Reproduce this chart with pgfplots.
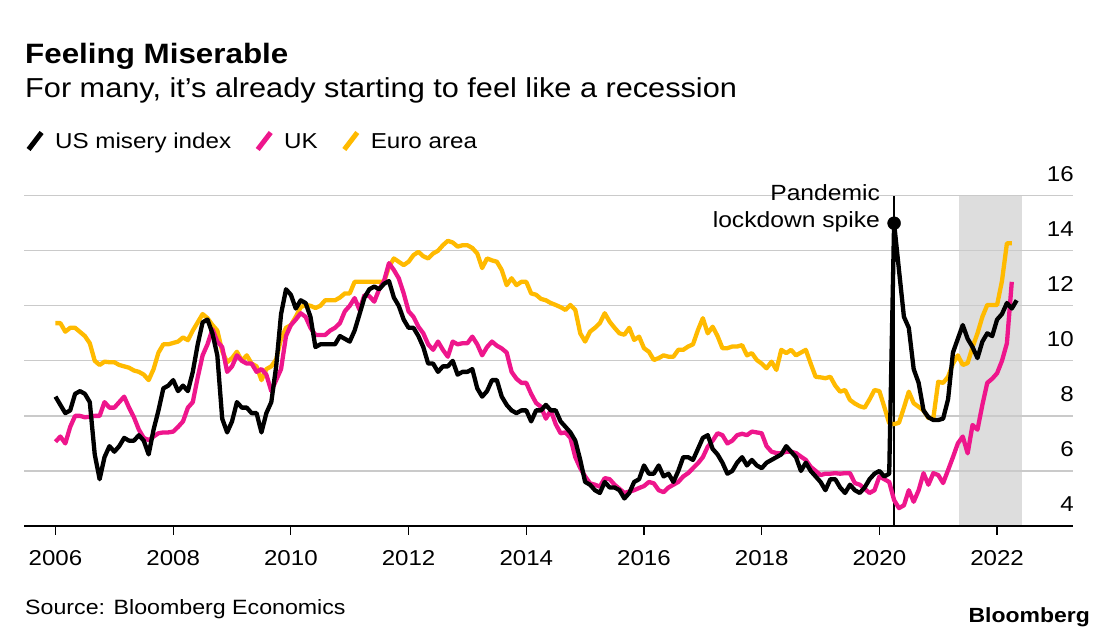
\documentclass[border=0pt]{standalone}
\usepackage{pgfplots}
\pgfplotsset{compat=1.18}
\usepackage{pgfplotstable}
\usepackage{fontspec}
\setmainfont{Liberation Sans}[FakeStretch=1.12]
\definecolor{ukpink}{RGB}{238,22,140}
\definecolor{euyellow}{RGB}{255,186,0}
\definecolor{gridgray}{RGB}{202,202,202}
\definecolor{shadegray}{RGB}{221,221,221}

\pgfplotstableread{
x us uk ea
2006.000 8.7 7.06 11.37
2006.083 8.4 7.25 11.37
2006.167 8.1 7.0 11.06
2006.250 8.2 7.6 11.2
2006.333 8.8 8.0 11.2
2006.417 8.9 8.0 11.05
2006.500 8.8 7.95 10.9
2006.583 8.5 7.97 10.64
2006.667 6.6 8.0 10.0
2006.750 5.7 8.0 9.85
2006.833 6.5 8.5 9.97
2006.917 6.9 8.3 9.95
2007.000 6.7 8.3 9.95
2007.083 6.9 8.5 9.85
2007.167 7.2 8.7 9.8
2007.250 7.1 8.3 9.75
2007.333 7.1 7.95 9.65
2007.417 7.3 7.5 9.6
2007.500 7.1 7.2 9.5
2007.583 6.6 7.12 9.3
2007.667 7.5 7.25 9.7
2007.750 8.2 7.37 10.3
2007.833 9.0 7.4 10.6
2007.917 9.1 7.4 10.6
2008.000 9.3 7.43 10.65
2008.083 8.9 7.6 10.7
2008.167 9.1 7.8 10.85
2008.250 8.9 8.3 10.75
2008.333 9.6 8.5 11.1
2008.417 10.6 9.4 11.4
2008.500 11.4 10.2 11.7
2008.583 11.5 10.6 11.55
2008.667 11.0 11.15 11.3
2008.750 10.2 10.7 11.1
2008.833 7.9 10.5 10.35
2008.917 7.4 9.6 9.95
2009.000 7.8 9.8 10.1
2009.083 8.5 10.2 10.33
2009.167 8.3 10.0 10.0
2009.250 8.3 9.9 10.2
2009.333 8.1 9.9 9.9
2009.417 8.1 9.6 9.8
2009.500 7.4 9.7 9.3
2009.583 8.1 9.5 9.7
2009.667 8.5 8.9 9.8
2009.750 9.8 9.3 10.05
2009.833 11.7 9.7 10.8
2009.917 12.6 10.9 11.2
2010.000 12.4 11.3 11.3
2010.083 11.9 11.5 11.6
2010.167 12.2 11.73 11.95
2010.250 12.1 11.6 12.03
2010.333 11.6 11.2 12.0
2010.417 10.5 10.94 11.92
2010.500 10.6 10.94 12.0
2010.583 10.6 10.94 12.2
2010.667 10.6 11.1 12.2
2010.750 10.6 11.2 12.2
2010.833 10.9 11.37 12.3
2010.917 10.8 11.8 12.45
2011.000 10.7 12.0 12.45
2011.083 11.1 12.28 12.87
2011.167 11.7 11.85 12.87
2011.250 12.3 12.39 12.87
2011.333 12.6 12.35 12.87
2011.417 12.7 12.15 12.87
2011.500 12.6 12.6 12.87
2011.583 12.8 12.9 12.87
2011.667 12.9 13.55 13.42
2011.750 12.3 13.3 13.72
2011.833 12.0 13.0 13.6
2011.917 11.5 12.45 13.48
2012.000 11.2 11.8 13.6
2012.083 11.2 11.6 13.84
2012.167 10.9 11.24 13.96
2012.250 10.5 11.0 13.8
2012.333 9.9 10.6 13.72
2012.417 9.9 10.4 13.9
2012.500 9.6 10.7 14.0
2012.583 9.8 10.4 14.2
2012.667 9.8 10.15 14.36
2012.750 10.0 10.7 14.3
2012.833 9.5 10.6 14.15
2012.917 9.6 10.64 14.2
2013.000 9.6 10.64 14.2
2013.083 9.7 10.88 14.1
2013.167 9.0 10.6 13.9
2013.250 8.7 10.2 13.37
2013.333 8.9 10.5 13.72
2013.417 9.3 10.7 13.65
2013.500 9.3 10.55 13.6
2013.583 8.7 10.45 13.3
2013.667 8.4 10.3 12.75
2013.750 8.2 9.6 13.0
2013.833 8.1 9.35 12.75
2013.917 8.2 9.2 12.87
2014.000 8.2 9.2 12.87
2014.083 7.8 8.8 12.45
2014.167 8.2 8.47 12.4
2014.250 8.2 8.33 12.25
2014.333 8.4 7.9 12.2
2014.417 8.2 8.2 12.1
2014.500 8.2 7.7 12.03
2014.583 7.8 7.37 11.95
2014.667 7.6 7.4 11.85
2014.750 7.4 7.2 12.03
2014.833 7.1 6.5 11.85
2014.917 6.4 6.1 11.0
2015.000 5.6 5.8 10.7
2015.083 5.5 5.55 11.06
2015.167 5.3 5.5 11.2
2015.250 5.2 5.43 11.37
2015.333 5.6 5.74 11.73
2015.417 5.4 5.7 11.42
2015.500 5.4 5.5 11.2
2015.583 5.3 5.35 11.0
2015.667 5.0 5.2 10.95
2015.750 5.2 5.25 11.2
2015.833 5.6 5.3 10.76
2015.917 5.7 5.38 10.88
2016.000 6.2 5.45 10.46
2016.083 5.9 5.6 10.33
2016.167 5.9 5.55 10.03
2016.250 6.2 5.3 10.1
2016.333 5.8 5.23 10.2
2016.417 5.9 5.4 10.15
2016.500 5.6 5.5 10.15
2016.583 6.0 5.6 10.4
2016.667 6.5 5.8 10.4
2016.750 6.5 5.92 10.52
2016.833 6.4 6.1 10.6
2016.917 6.8 6.28 11.12
2017.000 7.2 6.5 11.55
2017.083 7.3 6.88 11.0
2017.167 6.8 7.1 11.24
2017.250 6.6 7.37 10.9
2017.333 6.3 7.3 10.46
2017.417 5.9 7.0 10.46
2017.500 6.0 7.1 10.52
2017.583 6.3 7.3 10.52
2017.667 6.5 7.35 10.57
2017.750 6.2 7.3 10.2
2017.833 6.4 7.43 10.28
2017.917 6.2 7.4 10.03
2018.000 6.1 7.37 9.9
2018.083 6.3 6.9 9.73
2018.167 6.4 6.7 9.97
2018.250 6.5 6.65 9.67
2018.333 6.6 6.64 10.4
2018.417 6.9 6.7 10.28
2018.500 6.7 6.7 10.4
2018.583 6.5 6.65 10.2
2018.667 6.0 6.52 10.3
2018.750 6.3 6.4 10.4
2018.833 6.0 6.15 9.9
2018.917 5.8 6.0 9.42
2019.000 5.6 5.85 9.4
2019.083 5.3 5.9 9.37
2019.167 5.7 5.9 9.42
2019.250 5.7 5.92 9.1
2019.333 5.4 5.9 8.88
2019.417 5.2 5.92 8.94
2019.500 5.5 5.92 8.58
2019.583 5.3 5.56 8.45
2019.667 5.2 5.5 8.35
2019.750 5.4 5.35 8.3
2019.833 5.7 5.2 8.6
2019.917 5.9 5.3 8.94
2020.000 6.0 5.8 8.9
2020.083 5.8 5.7 8.33
2020.167 5.9 5.6 7.73
2020.250 15.0 4.94 7.7
2020.333 13.3 4.65 7.75
2020.417 11.6 4.75 8.3
2020.500 11.2 5.3 8.88
2020.583 9.7 4.88 8.46
2020.667 9.2 5.3 8.33
2020.750 8.2 5.92 8.2
2020.833 7.95 5.5 7.92
2020.917 7.85 5.92 7.92
2021.000 7.85 5.85 9.24
2021.083 7.9 5.56 9.2
2021.167 8.6 6.03 9.42
2021.250 10.3 6.5 9.9
2021.333 10.8 7.0 10.2
2021.417 11.3 7.25 9.85
2021.500 10.8 6.64 9.92
2021.583 10.5 7.67 10.5
2021.667 10.1 7.5 11.0
2021.750 10.7 8.4 11.6
2021.833 11.0 9.2 12.03
2021.917 10.9 9.35 12.03
2022.000 11.5 9.55 12.03
2022.083 11.7 10.0 12.9
2022.167 12.1 10.64 14.27
2022.250 11.9 12.87 14.27
2022.333 12.2 nan nan
}\misery

\begin{document}
\begin{tikzpicture}
\node[anchor=base west, inner sep=0pt, font=\bfseries\fontsize{28bp}{30bp}\selectfont] at (25bp,565bp) {Feeling Miserable};
\node[anchor=base west, inner sep=0pt, font=\fontsize{27.4bp}{30bp}\selectfont] at (25bp,531bp) {For many, it’s already starting to feel like a recession};
\node[anchor=base west, inner sep=0pt, font=\fontsize{20.7bp}{24bp}\selectfont] at (25bp,14.5bp) {Source: Bloomberg Economics};
\node[anchor=base east, inner sep=0pt, font=\bfseries\fontsize{20.5bp}{24bp}\selectfont] at (1090bp,7bp) {Bloomberg};
\begin{axis}[
  at={(24bp,103bp)}, anchor=south west,
  scale only axis, width=1049bp, height=330.3bp,
  xmin=2005.465, xmax=2023.29, ymin=4, ymax=16,
  set layers, clip mode=individual,
  axis x line*=bottom, axis y line*=right,
  x axis line style={black, line width=1.3bp, -},
  y axis line style={draw=none},
  xtick pos=left, ytick pos=right, yticklabel pos=right,
  tick align=outside, major tick length=9bp,
  xtick={2006,2008,...,2022},
  xticklabels={2006,2008,2010,2012,2014,2016,2018,2020,2022},
  ytick={4,6,...,16},
  yticklabels={4,6,8,10,12,14,16},
  x tick style={black, line width=1.2bp},
  y tick style={draw=none},
  ymajorgrids, grid style={gridgray, line width=1.3bp},
  xticklabel style={font=\fontsize{21.5bp}{24bp}\selectfont, anchor=base, inner sep=0pt, yshift=-30bp},
  yticklabel style={font=\fontsize{21.5bp}{24bp}\selectfont, anchor=base east, inner sep=0pt, xshift=-8bp, yshift=14.5bp},
  unbounded coords=discard,
  legend style={at={(axis description cs:0.002,1.1656)}, anchor=west, draw=none, fill=none,
    inner sep=0pt, outer sep=0pt, font=\fontsize{21.6bp}{24bp}\selectfont,
    nodes={inner sep=0pt},
    /tikz/every odd column/.append style={column sep=11bp},
    /tikz/every even column/.append style={column sep=24bp}},
  legend columns=3,
  reverse legend,
  legend image code/.code={\draw[#1, line width=5bp, line cap=butt] (0bp,-8bp) -- (13bp,9bp);},
]
\addplot[fill=shadegray, draw=none, forget plot, on layer=axis background] coordinates {(2021.35,4) (2021.35,16) (2022.42,16) (2022.42,4)} -- cycle;
\addplot[black, line width=1.5bp, forget plot] coordinates {(2020.25,4) (2020.25,16)};
\addplot[euyellow, line width=4.3bp, line join=round] table[x=x, y=ea] {\misery};
\addlegendentry{Euro area}
\addplot[ukpink, line width=4.3bp, line join=round] table[x=x, y=uk] {\misery};
\addlegendentry{UK}
\addplot[black, line width=4.3bp, line join=round] table[x=x, y=us] {\misery};
\addlegendentry{US misery index}
\addplot[only marks, mark=*, mark size=6.5bp, black, forget plot] coordinates {(2020.25,15.0)};
\node[anchor=base east, inner sep=0pt, xshift=-14bp, font=\fontsize{22bp}{24bp}\selectfont] at (axis cs:2020.25,15.84) {Pandemic};
\node[anchor=base east, inner sep=0pt, xshift=-14bp, font=\fontsize{22bp}{24bp}\selectfont] at (axis cs:2020.25,14.83) {lockdown spike};
\end{axis}
\pgfresetboundingbox
\path[use as bounding box] (0bp,0bp) rectangle (1096bp,629bp);
\end{tikzpicture}
\end{document}
